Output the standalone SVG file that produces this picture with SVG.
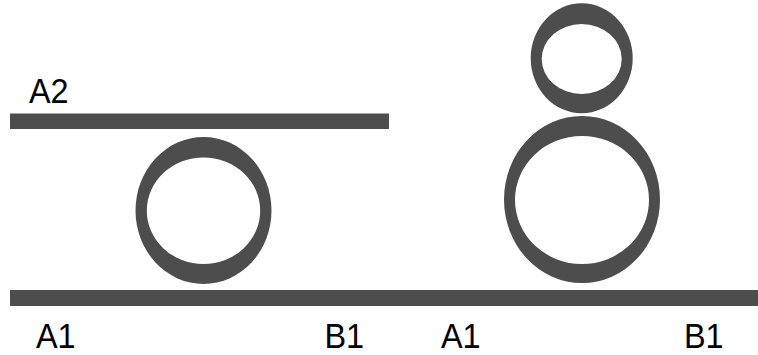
<svg xmlns="http://www.w3.org/2000/svg" width="758" height="355" viewBox="0 0 758 355">
<style>
.s{fill:#4d4d4d;}
.r{fill:#4d4d4d;fill-rule:evenodd;}
.t{font-family:"Liberation Sans",Arial,sans-serif;font-size:36px;fill:#000;}
</style>
<rect width="758" height="355" fill="#fff"/>
<g id="bar-top"><rect class="s" x="10" y="113.5" width="379" height="15.5"/></g>
<g id="bar-bottom"><rect class="s" x="10" y="290" width="748" height="16"/></g>
<g id="ring-left"><path class="r" d="M135.5,210.5 a68,73.5 0 1,0 136,0 a68,73.5 0 1,0 -136,0 Z M146.8,210.7 a56.7,53.3 0 1,0 113.4,0 a56.7,53.3 0 1,0 -113.4,0 Z"/></g>
<g id="ring-big"><path class="r" d="M504,199.5 a78,83.5 0 1,0 156,0 a78,83.5 0 1,0 -156,0 Z M515,200 a67,64 0 1,0 134,0 a67,64 0 1,0 -134,0 Z"/></g>
<g id="ring-small"><path class="r" d="M530.7,58.3 a51,55 0 1,0 102,0 a51,55 0 1,0 -102,0 Z M541.7,59 a40,35 0 1,0 80,0 a40,35 0 1,0 -80,0 Z"/></g>
<g id="connectors"></g>
<g id="labels">
<text class="t" transform="translate(29,103.3) scale(0.9,1)">A2</text>
<text class="t" transform="translate(36,348.3) scale(0.9,1)">A1</text>
<text class="t" transform="translate(324.5,348.3) scale(0.9,1)">B1</text>
<text class="t" transform="translate(441,348.3) scale(0.9,1)">A1</text>
<text class="t" transform="translate(684,348.3) scale(0.9,1)">B1</text>
</g>
</svg>
